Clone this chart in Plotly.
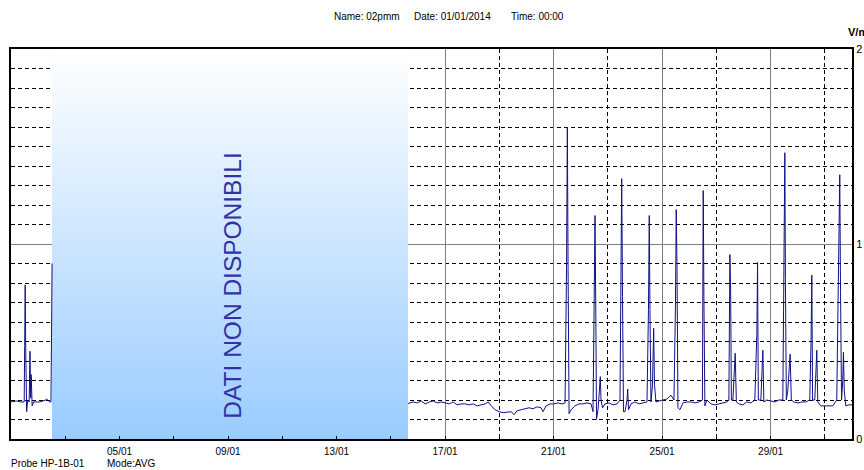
import plotly.graph_objects as go
import pandas as pd

# ---- data ----
times = [
    "2014-01-01 00:00", "2014-01-01 05:00", "2014-01-01 08:34", "2014-01-01 11:40", "2014-01-01 12:06",
    "2014-01-01 12:33", "2014-01-01 13:00", "2014-01-01 13:52", "2014-01-01 14:45", "2014-01-01 16:05",
    "2014-01-01 16:47", "2014-01-01 17:24", "2014-01-01 17:51", "2014-01-01 18:43", "2014-01-01 20:03",
    "2014-01-02 01:22", "2014-01-02 06:40", "2014-01-02 07:32", "2014-01-02 10:12", "2014-01-02 11:20",
    "2014-01-02 11:50", "2014-01-02 12:20",
    "2014-01-08 00:00",
    "2014-01-15 15:12", "2014-01-15 19:51", "2014-01-15 23:24", "2014-01-16 02:56", "2014-01-16 06:27",
    "2014-01-16 09:59", "2014-01-16 13:32", "2014-01-16 17:04", "2014-01-16 20:36", "2014-01-17 00:07",
    "2014-01-17 03:39", "2014-01-17 07:12", "2014-01-17 10:44", "2014-01-17 14:15", "2014-01-17 17:47",
    "2014-01-17 21:19", "2014-01-18 00:52", "2014-01-18 04:24", "2014-01-18 07:55", "2014-01-18 11:27",
    "2014-01-18 14:07", "2014-01-18 16:46", "2014-01-18 20:18", "2014-01-18 23:50", "2014-01-19 03:23",
    "2014-01-19 06:55", "2014-01-19 10:26", "2014-01-19 13:05", "2014-01-19 15:44", "2014-01-19 19:16",
    "2014-01-19 22:48", "2014-01-20 02:20", "2014-01-20 05:53", "2014-01-20 09:24", "2014-01-20 12:56",
    "2014-01-20 14:43", "2014-01-20 17:21", "2014-01-20 20:54", "2014-01-21 00:26", "2014-01-21 03:58",
    "2014-01-21 07:29", "2014-01-21 10:09", "2014-01-21 11:28", "2014-01-21 12:11", "2014-01-21 12:49",
    "2014-01-21 13:42", "2014-01-21 15:27", "2014-01-21 19:00", "2014-01-21 22:32", "2014-01-22 02:04",
    "2014-01-22 05:35", "2014-01-22 09:09", "2014-01-22 10:54", "2014-01-22 11:47", "2014-01-22 12:40",
    "2014-01-22 13:22", "2014-01-22 13:59", "2014-01-22 15:19", "2014-01-22 16:38", "2014-01-22 17:21",
    "2014-01-22 17:58", "2014-01-22 19:18", "2014-01-22 21:30", "2014-01-23 01:03", "2014-01-23 04:35",
    "2014-01-23 08:07", "2014-01-23 10:45", "2014-01-23 11:38", "2014-01-23 12:16", "2014-01-23 12:59",
    "2014-01-23 13:52", "2014-01-23 15:11", "2014-01-23 16:58", "2014-01-23 17:34", "2014-01-23 18:17",
    "2014-01-23 20:30", "2014-01-24 00:01", "2014-01-24 03:33", "2014-01-24 07:05", "2014-01-24 10:38",
    "2014-01-24 11:57", "2014-01-24 12:39", "2014-01-24 13:16", "2014-01-24 14:10", "2014-01-24 15:29",
    "2014-01-24 16:32", "2014-01-24 17:15", "2014-01-24 18:35", "2014-01-24 21:13", "2014-01-25 00:46",
    "2014-01-25 04:18", "2014-01-25 07:49", "2014-01-25 10:29", "2014-01-25 11:48", "2014-01-25 12:30",
    "2014-01-25 13:08", "2014-01-25 14:01", "2014-01-25 15:48", "2014-01-25 18:26", "2014-01-25 21:58",
    "2014-01-26 01:31", "2014-01-26 05:02", "2014-01-26 08:34", "2014-01-26 11:40", "2014-01-26 12:23",
    "2014-01-26 12:59", "2014-01-26 13:52", "2014-01-26 15:39", "2014-01-26 19:11", "2014-01-26 22:42",
    "2014-01-27 02:14", "2014-01-27 05:47", "2014-01-27 09:19", "2014-01-27 11:05", "2014-01-27 11:21",
    "2014-01-27 11:59", "2014-01-27 12:40", "2014-01-27 13:18", "2014-01-27 14:37", "2014-01-27 16:39",
    "2014-01-27 17:43", "2014-01-27 19:55", "2014-01-27 23:27", "2014-01-28 03:00", "2014-01-28 06:32",
    "2014-01-28 10:03", "2014-01-28 11:50", "2014-01-28 12:27", "2014-01-28 13:09", "2014-01-28 15:22",
    "2014-01-28 17:08", "2014-01-28 18:01", "2014-01-28 20:40", "2014-01-29 00:13", "2014-01-29 03:45",
    "2014-01-29 07:16", "2014-01-29 10:48", "2014-01-29 11:41", "2014-01-29 12:13", "2014-01-29 12:35",
    "2014-01-29 13:06", "2014-01-29 13:54", "2014-01-29 15:13", "2014-01-29 17:15", "2014-01-29 18:19",
    "2014-01-29 20:31", "2014-01-30 00:03", "2014-01-30 03:35", "2014-01-30 07:08", "2014-01-30 10:39",
    "2014-01-30 11:48", "2014-01-30 12:26", "2014-01-30 13:08", "2014-01-30 15:04", "2014-01-30 16:51",
    "2014-01-30 17:44", "2014-01-30 20:23", "2014-01-30 23:54", "2014-01-31 03:27", "2014-01-31 06:59",
    "2014-01-31 10:31", "2014-01-31 11:50", "2014-01-31 12:33", "2014-01-31 13:10", "2014-01-31 13:52",
    "2014-01-31 14:45", "2014-01-31 15:49", "2014-01-31 16:26", "2014-01-31 17:08", "2014-01-31 18:29",
    "2014-01-31 21:07", "2014-02-01 00:00",
]
values = [
    0.19, 0.195, 0.19, 0.19, 0.48,
    0.79, 0.47, 0.14, 0.20, 0.19,
    0.45, 0.21, 0.33, 0.17, 0.19,
    0.19, 0.20, 0.205, 0.19, 0.19,
    0.52, 0.90,
    None,
    0.182, 0.19, 0.185, 0.195, 0.18,
    0.19, 0.195, 0.185, 0.19, 0.185,
    0.18, 0.19, 0.175, 0.18, 0.18,
    0.175, 0.18, 0.17, 0.175, 0.18,
    0.19, 0.17, 0.15, 0.14, 0.135,
    0.138, 0.14, 0.125, 0.145, 0.15,
    0.155, 0.16, 0.155, 0.165, 0.16,
    0.14, 0.17, 0.18, 0.18, 0.185,
    0.18, 0.185, 0.88, 1.60, 0.88,
    0.13, 0.15, 0.17, 0.18, 0.18,
    0.185, 0.18, 0.14, 0.63, 1.146,
    0.63, 0.10, 0.15, 0.25, 0.32,
    0.20, 0.16, 0.18, 0.185, 0.175,
    0.18, 0.20, 0.75, 1.335, 0.73,
    0.14, 0.14, 0.20, 0.256, 0.15,
    0.18, 0.19, 0.18, 0.185, 0.19,
    0.665, 1.146, 0.66, 0.19, 0.276,
    0.568, 0.28, 0.19, 0.195, 0.20,
    0.205, 0.225, 0.20, 0.675, 1.176,
    0.916, 0.16, 0.15, 0.185, 0.19,
    0.19, 0.185, 0.19, 0.20, 1.274,
    0.73, 0.17, 0.20, 0.18, 0.175,
    0.18, 0.185, 0.19, 0.20, 0.75,
    0.946, 0.75, 0.20, 0.20, 0.44,
    0.19, 0.18, 0.175, 0.19, 0.185,
    0.20, 0.547, 0.905, 0.20, 0.20,
    0.455, 0.19, 0.20, 0.195, 0.19,
    0.20, 0.20, 0.82, 1.15, 1.468,
    0.82, 0.20, 0.25, 0.435, 0.20,
    0.19, 0.185, 0.19, 0.19, 0.20,
    0.51, 0.84, 0.20, 0.20, 0.455,
    0.19, 0.17, 0.17, 0.17, 0.17,
    0.20, 0.75, 1.05, 1.355, 0.75,
    0.20, 0.30, 0.445, 0.25, 0.17,
    0.175, 0.175,
]

gap_start = "2014-01-02 12:16"
gap_end = "2014-01-15 15:12"
gap_label = "DATI NON DISPONIBILI"

tick_vals = ["2014-01-05", "2014-01-09", "2014-01-13", "2014-01-17",
             "2014-01-21", "2014-01-25", "2014-01-29"]
tick_text = ["05/01", "09/01", "13/01", "17/01", "21/01", "25/01", "29/01"]
y_tick_vals = [0, 1, 2]
y_tick_text = ["0", "1", "2"]

header_name = "Name: 02pmm"
header_date = "Date: 01/01/2014"
header_time = "Time: 00:00"
probe_text = "Probe HP-1B-01"
mode_text = "Mode:AVG"
unit_text = "V/m"

FONT = "Liberation Sans, Arial, sans-serif"
DASH = "4px,3px"

fig = go.Figure()

# gradient "no data" panel (heatmap drawn above the grid, below the line)
g0 = pd.Timestamp(gap_start)
g1 = pd.Timestamp(gap_end)
gmid = g0 + (g1 - g0) / 2
fig.add_trace(go.Heatmap(
    x=[g0, gmid, g1], y=[0, 2], z=[[1, 1], [0, 0]],
    colorscale=[[0, "#FFFFFF"], [1, "#99CCFF"]],
    zsmooth="best", showscale=False, hoverinfo="skip",
))

fig.add_trace(go.Scatter(
    x=pd.to_datetime(times), y=values, mode="lines",
    line=dict(color="#10108A", width=1), connectgaps=False,
    hoverinfo="skip", showlegend=False,
))

fig.update_xaxes(
    type="date", range=["2014-01-01", "2014-02-01"],
    tickmode="array", tickvals=tick_vals, ticktext=tick_text,
    tickfont=dict(family=FONT, size=10, color="black"),
    ticklabelstandoff=2,
    showgrid=True, gridcolor="#808080", gridwidth=1,
    ticks="inside", ticklen=3, tickcolor="black",
    showline=True, linecolor="black", linewidth=2, mirror=True,
    minor=dict(tickmode="linear", tick0="2014-01-03", dtick=4 * 86400000,
               showgrid=True, gridcolor="black", griddash=DASH, gridwidth=1,
               ticks="inside", ticklen=3, tickcolor="black"),
    zeroline=False,
)
fig.update_yaxes(
    range=[0, 2], side="right",
    tickmode="array", tickvals=y_tick_vals, ticktext=y_tick_text,
    tickfont=dict(family=FONT, size=11, color="black"),
    showgrid=True, gridcolor="#808080", gridwidth=1,
    ticks="", showline=True, linecolor="black", linewidth=2, mirror=True,
    minor=dict(tickmode="linear", tick0=0, dtick=0.1,
               showgrid=True, gridcolor="black", griddash=DASH, gridwidth=1),
    zeroline=False, automargin=False,
)

# page coordinates -> paper coordinates (plot area spans x 11..852, y 49..439)
def px_x(p):
    return (p - 11) / 841.0

def px_y(p):
    return (439 - p) / 390.0

annotations = [
    dict(text=header_name, x=px_x(332), y=px_y(16)),
    dict(text=header_date, x=px_x(412), y=px_y(16)),
    dict(text=header_time, x=px_x(509), y=px_y(16)),
    dict(text=probe_text, x=px_x(9), y=px_y(463)),
    dict(text=mode_text, x=px_x(105), y=px_y(463)),
]
for a in annotations:
    fig.add_annotation(xref="paper", yref="paper", xanchor="left", yanchor="middle",
                       showarrow=False, font=dict(family=FONT, size=10, color="black"), **a)

fig.add_annotation(xref="paper", yref="paper", x=px_x(846), y=px_y(32),
                   xanchor="left", yanchor="middle", showarrow=False,
                   text="<b>" + unit_text + "</b>",
                   font=dict(family=FONT, size=11, color="black"))

fig.add_annotation(xref="x", yref="paper", x="2014-01-09 03:13", y=px_y(286),
                   text=gap_label, textangle=-90, showarrow=False,
                   font=dict(family=FONT, size=24.5, color="#3232A6"))

fig.update_layout(
    width=864, height=470,
    margin=dict(l=11, r=12, t=49, b=31),
    paper_bgcolor="white", plot_bgcolor="white",
    showlegend=False,
)

# remove the page's default body margin so the 864x470 figure fills the window exactly
fig.write_html(
    "out.html",
    config={"displayModeBar": False, "staticPlot": True},
    post_script="document.body.style.margin='0';document.documentElement.style.overflow='hidden';",
)
